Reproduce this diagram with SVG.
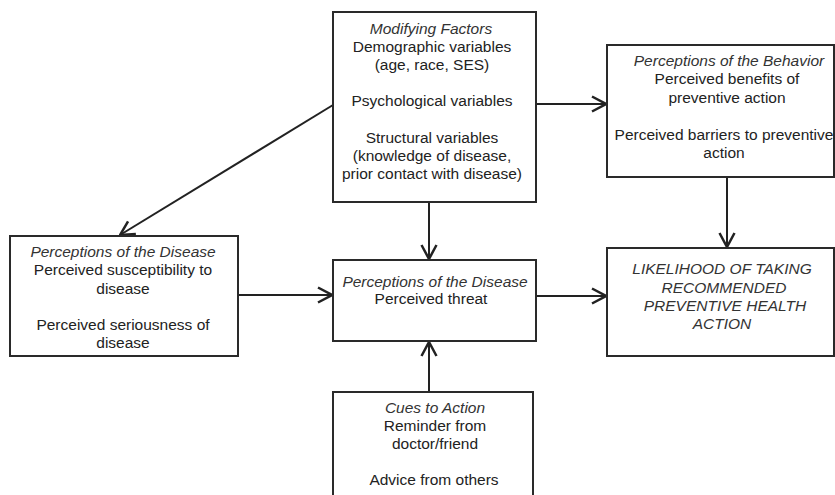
<svg xmlns="http://www.w3.org/2000/svg" width="835" height="495" viewBox="0 0 835 495">
<style>
.box{fill:#fff;stroke:#2a2a2a;stroke-width:2}
.t{font-family:"Liberation Sans",Arial,Helvetica,sans-serif;font-size:15.5px;fill:#222;text-anchor:middle}
.i{font-style:italic;fill:#333}
.c{fill:none;stroke:#222;stroke-width:2}
</style>
<defs>
<marker id="ah" viewBox="0 0 16 18" refX="15" refY="9" markerWidth="16" markerHeight="18" markerUnits="userSpaceOnUse" orient="auto">
<path d="M1,1.5 L15,9 L1,16.5" fill="none" stroke="#222" stroke-width="2.5"/>
</marker>
</defs>
<rect width="835" height="495" fill="#fff"/>
<g id="connectors">
<line class="c" x1="333" y1="105" x2="120" y2="235" marker-end="url(#ah)"/>
<line class="c" x1="536" y1="104" x2="606" y2="104" marker-end="url(#ah)"/>
<line class="c" x1="429" y1="202" x2="429" y2="259" marker-end="url(#ah)"/>
<line class="c" x1="238" y1="295" x2="332" y2="295" marker-end="url(#ah)"/>
<line class="c" x1="536" y1="296" x2="606" y2="296" marker-end="url(#ah)"/>
<line class="c" x1="727" y1="177" x2="727" y2="247" marker-end="url(#ah)"/>
<line class="c" x1="429" y1="392" x2="429" y2="342" marker-end="url(#ah)"/>
</g>
<g id="modifying">
<rect class="box" x="333" y="12" width="203" height="190"/>
<text class="t i" x="431" y="34">Modifying Factors</text>
<text class="t" x="432" y="52">Demographic variables</text>
<text class="t" x="432" y="70">(age, race, SES)</text>
<text class="t" x="432" y="106">Psychological variables</text>
<text class="t" x="432" y="143">Structural variables</text>
<text class="t" x="432" y="161">(knowledge of disease,</text>
<text class="t" x="432" y="179">prior contact with disease)</text>
</g>
<g id="behavior">
<rect class="box" x="607" y="45" width="227" height="132"/>
<text class="t i" x="729" y="66">Perceptions of the Behavior</text>
<text class="t" x="727" y="84">Perceived benefits of</text>
<text class="t" x="727" y="103">preventive action</text>
<text class="t" x="724" y="140">Perceived barriers to preventive</text>
<text class="t" x="724" y="158">action</text>
</g>
<g id="disease-left">
<rect class="box" x="10" y="236" width="228" height="120"/>
<text class="t i" x="123" y="257">Perceptions of the Disease</text>
<text class="t" x="123" y="275">Perceived susceptibility to</text>
<text class="t" x="123" y="294">disease</text>
<text class="t" x="123" y="330">Perceived seriousness of</text>
<text class="t" x="123" y="348">disease</text>
</g>
<g id="disease-middle">
<rect class="box" x="333" y="260" width="203" height="81"/>
<text class="t i" x="435" y="287">Perceptions of the Disease</text>
<text class="t" x="431" y="304">Perceived threat</text>
</g>
<g id="likelihood">
<rect class="box" x="607" y="248" width="227" height="108"/>
<text class="t i" x="722" y="274">LIKELIHOOD OF TAKING</text>
<text class="t i" x="724" y="293">RECOMMENDED</text>
<text class="t i" x="725" y="311">PREVENTIVE HEALTH</text>
<text class="t i" x="722" y="329">ACTION</text>
</g>
<g id="cues">
<rect class="box" x="333" y="392" width="200" height="115"/>
<text class="t i" x="435" y="413">Cues to Action</text>
<text class="t" x="435" y="431">Reminder from</text>
<text class="t" x="435" y="449">doctor/friend</text>
<text class="t" x="434" y="485">Advice from others</text>
</g>
</svg>
